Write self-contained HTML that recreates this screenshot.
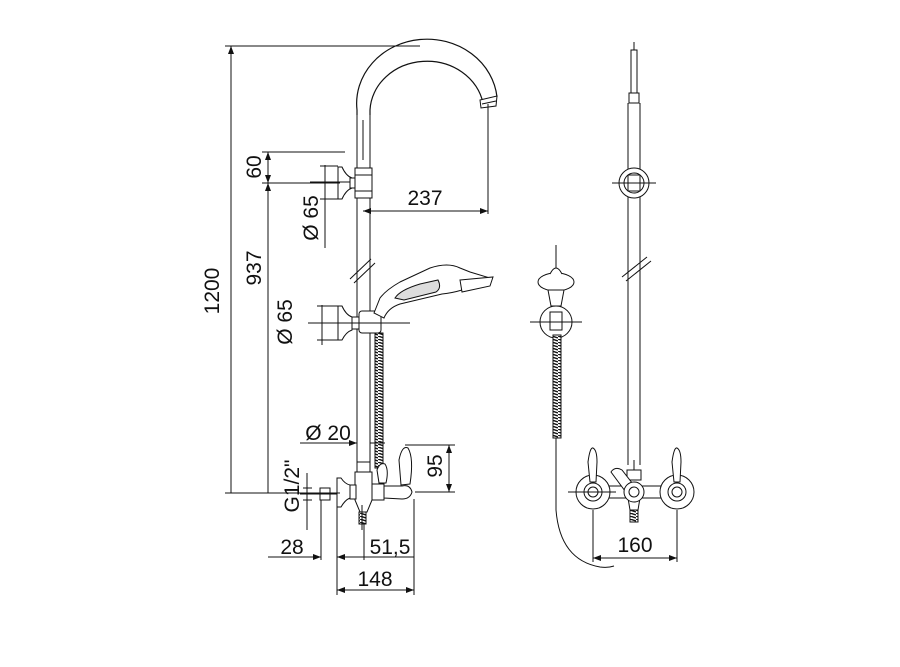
<!DOCTYPE html>
<html><head><style>
html,body{margin:0;padding:0;background:#fff;}
svg{display:block;}
text{font-family:"Liberation Sans",Arial,sans-serif;font-size:21px;fill:#111;}
</style></head><body>
<svg width="900" height="667" viewBox="0 0 900 667" xmlns="http://www.w3.org/2000/svg">
<defs>
<marker id="a" markerWidth="8" markerHeight="6" refX="8" refY="3" orient="auto-start-reverse" markerUnits="userSpaceOnUse"><path d="M0,0 L8,3 L0,6 z" fill="#111"/></marker>
<pattern id="hose" width="6" height="3" patternUnits="userSpaceOnUse"><rect width="6" height="3" fill="#fff"/><line x1="0" y1="0" x2="6" y2="2" stroke="#111" stroke-width="1.4"/></pattern>
</defs>
<g stroke="#111" stroke-width="1" fill="none">
<!-- ===== LEFT VIEW ===== -->
<!-- spout -->
<path d="M357,115 L357,110 A70,64 0 0 1 497,97" stroke-width="1.2"/>
<path d="M370,115 L370,110 A57,51 0 0 1 483,103" stroke-width="1.2"/>
<path d="M480,100 L497,96 L496,106 L481,108 Z" fill="#fff"/>
<line x1="482" y1="104" x2="496" y2="101"/>
<!-- pipe -->
<line x1="357" y1="110" x2="357" y2="465"/>
<line x1="370" y1="110" x2="370" y2="465"/>
<line x1="363" y1="120" x2="363" y2="160"/>
<!-- break -->
<line x1="350" y1="279" x2="371" y2="259"/>
<line x1="354" y1="283" x2="375" y2="263"/>
<!-- upper bracket -->
<rect x="355" y="168" width="17" height="30" fill="#fff"/>
<line x1="355" y1="175" x2="372" y2="175"/><line x1="355" y1="191" x2="372" y2="191"/>
<path d="M338,167 L342,167 Q346,176 352,178 L352,188 Q346,190 342,199 L338,199 Z" fill="#fff"/>
<rect x="350" y="178" width="5" height="10" fill="#fff"/>
<!-- lower bracket -->
<path d="M338,306 L342,306 Q346,315 352,317 L352,330 Q346,332 342,340 L338,340 Z" fill="#fff"/>
<rect x="352" y="317" width="8" height="12" fill="#fff"/>
<rect x="359" y="311" width="22" height="22" rx="3" fill="#fff"/>
<!-- hand shower -->
<path d="M374,313 L380,298 Q386,290 400,282 L430,268 Q448,262 460,268 L470,272 L490,278 L486,285 L462,290 Q452,293 442,294 L400,304 Q388,308 384,318 Z" fill="#fff"/>
<path d="M395,298 Q400,290 420,284 L438,280 Q442,288 436,292 L404,300 Z" fill="#ddd"/>
<path d="M460,280 L493,277 L490,286 L462,292 Z" fill="#fff"/>
<!-- hose -->
<rect x="375" y="333" width="8" height="135" fill="url(#hose)"/>
<!-- body -->
<rect x="357" y="462" width="13" height="10" fill="#fff"/>
<path d="M355,472 L372,472 L372,500 L367,512 L360,512 L355,500 Z" fill="#fff"/>
<rect x="359" y="512" width="7" height="12" fill="url(#hose)"/>
<path d="M337,478 L341,478 Q345,484 350,485 L350,498 Q345,500 341,507 L337,507 Z" fill="#fff"/>
<rect x="350" y="485" width="6" height="14" fill="#fff"/>
<rect x="372" y="484" width="12" height="16" fill="#fff"/>
<path d="M384,486 L402,486 Q410,484 412,492 Q410,499 402,499 L384,498 Z" fill="#fff"/>
<path d="M401,485 L399,460 Q402,445 408,448 Q414,458 410,484 Z" fill="#fff"/>
<path d="M379,483 L377,470 Q380,462 385,464 Q389,470 386,483 Z" fill="#fff"/>
<rect x="320" y="488" width="10" height="12" fill="#fff"/>
<line x1="330" y1="494" x2="337" y2="494"/>
<!-- dimensions left -->
<line x1="225" y1="46" x2="420" y2="46"/>
<line x1="231" y1="46" x2="231" y2="493" marker-start="url(#a)"/>
<line x1="225" y1="493" x2="340" y2="493"/>
<line x1="262" y1="152" x2="345" y2="152"/>
<line x1="262" y1="183" x2="340" y2="183"/>
<line x1="268" y1="152" x2="268" y2="183" marker-start="url(#a)" marker-end="url(#a)"/>
<line x1="268" y1="183" x2="268" y2="493" marker-start="url(#a)"/>
<line x1="325" y1="165" x2="325" y2="248"/>
<line x1="320" y1="166" x2="338" y2="166"/><line x1="320" y1="199" x2="338" y2="199"/>
<line x1="310" y1="182" x2="350" y2="182"/>
<line x1="363" y1="211" x2="488" y2="211" marker-start="url(#a)" marker-end="url(#a)"/>
<line x1="488" y1="104" x2="488" y2="214"/>
<line x1="322" y1="305" x2="322" y2="345"/>
<line x1="317" y1="306" x2="338" y2="306"/><line x1="317" y1="340" x2="338" y2="340"/>
<line x1="308" y1="323" x2="410" y2="323"/>
<line x1="300" y1="443" x2="357" y2="443" marker-end="url(#a)"/>
<line x1="370" y1="443" x2="385" y2="443"/>
<line x1="405" y1="445" x2="455" y2="445"/>
<line x1="415" y1="492" x2="455" y2="492"/>
<line x1="449" y1="445" x2="449" y2="492" marker-start="url(#a)" marker-end="url(#a)"/>
<line x1="307" y1="473" x2="307" y2="530"/>
<line x1="303" y1="488" x2="312" y2="488"/><line x1="303" y1="500" x2="312" y2="500"/>
<line x1="300" y1="494" x2="330" y2="494"/>
<line x1="321" y1="500" x2="321" y2="560"/>
<line x1="337" y1="507" x2="337" y2="595"/>
<line x1="364" y1="524" x2="364" y2="560"/>
<line x1="414" y1="499" x2="414" y2="595"/>
<line x1="268" y1="557" x2="321" y2="557" marker-end="url(#a)"/>
<line x1="337" y1="557" x2="364" y2="557" marker-start="url(#a)"/>
<line x1="364" y1="557" x2="414" y2="557"/>
<line x1="337" y1="590" x2="414" y2="590" marker-start="url(#a)" marker-end="url(#a)"/>
<line x1="362" y1="505" x2="362" y2="530"/>
<!-- ===== RIGHT VIEW ===== -->
<line x1="634" y1="42" x2="634" y2="95"/>
<rect x="631" y="50" width="6" height="45" fill="#fff"/>
<rect x="629" y="93" width="10" height="10" fill="#fff"/>
<line x1="628" y1="103" x2="628" y2="465"/>
<line x1="640" y1="103" x2="640" y2="465"/>
<circle cx="634" cy="183" r="15" fill="#fff"/>
<circle cx="634" cy="183" r="10"/>
<rect x="628" y="175" width="12" height="16" fill="#fff"/>
<line x1="612" y1="183" x2="656" y2="183"/>
<line x1="622" y1="277" x2="647" y2="257"/>
<line x1="626" y1="281" x2="651" y2="261"/>
<!-- handshower side -->
<line x1="556" y1="245" x2="556" y2="440"/>
<ellipse cx="556" cy="282" rx="18" ry="9" fill="#fff"/>
<path d="M550,274 Q556,262 562,274" fill="#fff"/>
<path d="M548,290 L551,306 L561,306 L564,290 Z" fill="#fff"/>
<circle cx="556" cy="322" r="16" fill="#fff"/>
<rect x="550" y="312" width="12" height="18" fill="#fff"/>
<line x1="530" y1="322" x2="582" y2="322"/>
<rect x="553" y="335" width="8" height="103" fill="url(#hose)"/>
<path d="M556,440 L556,510 Q560,560 600,567 Q608,568 614,566"/>
<!-- mixer body -->
<path d="M590,480 L680,480 L680,503 L590,503 Z" fill="#fff" stroke="none"/>
<line x1="605" y1="486" x2="665" y2="486"/><line x1="605" y1="498" x2="665" y2="498"/>
<circle cx="593" cy="492" r="17" fill="#fff"/>
<circle cx="593" cy="492" r="9"/><circle cx="593" cy="492" r="5"/>
<circle cx="677" cy="492" r="17" fill="#fff"/>
<circle cx="677" cy="492" r="9"/><circle cx="677" cy="492" r="5"/>
<path d="M627,470 L641,470 L641,480 L627,480 Z" fill="#fff"/>
<path d="M628,498 L640,498 L638,510 L630,510 Z" fill="#fff"/>
<rect x="630" y="510" width="8" height="12" fill="url(#hose)"/>
<path d="M611,472 Q615,466 622,470 L636,488 L628,495 Z" fill="#fff"/>
<circle cx="634" cy="492" r="10" fill="#fff"/><circle cx="634" cy="492" r="5"/>
<path d="M590,482 L588,462 Q590,447 593,448 Q597,450 597,462 L596,482 Z" fill="#fff"/>
<path d="M674,482 L672,462 Q674,447 677,448 Q681,450 681,462 L680,482 Z" fill="#fff"/>
<line x1="634" y1="460" x2="634" y2="470"/>
<line x1="568" y1="492" x2="616" y2="492"/>
<line x1="593" y1="510" x2="593" y2="562"/>
<line x1="677" y1="510" x2="677" y2="562"/>
<line x1="593" y1="558" x2="677" y2="558" marker-start="url(#a)" marker-end="url(#a)"/>
</g>
<!-- text -->
<text transform="translate(219,291) rotate(-90)" text-anchor="middle">1200</text>
<text transform="translate(261,167) rotate(-90)" text-anchor="middle">60</text>
<text transform="translate(261,268) rotate(-90)" text-anchor="middle">937</text>
<text transform="translate(318,218) rotate(-90)" text-anchor="middle">Ø 65</text>
<text transform="translate(292,322) rotate(-90)" text-anchor="middle">Ø 65</text>
<text x="425" y="205" text-anchor="middle">237</text>
<text x="328" y="440" text-anchor="middle">Ø 20</text>
<text transform="translate(442,466) rotate(-90)" text-anchor="middle">95</text>
<text transform="translate(299,486) rotate(-90)" text-anchor="middle">G1/2"</text>
<text x="292" y="554" text-anchor="middle">28</text>
<text x="390" y="554" text-anchor="middle">51,5</text>
<text x="375" y="586" text-anchor="middle">148</text>
<text x="635" y="552" text-anchor="middle">160</text>
</svg>
</body></html>
